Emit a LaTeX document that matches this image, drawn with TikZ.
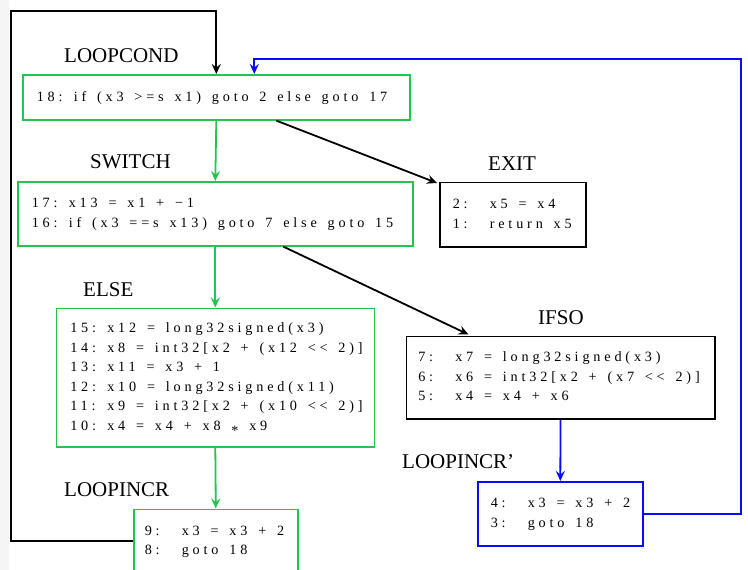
\documentclass[tikz,border=0pt]{standalone}
\usepackage{fontspec}
\setmainfont{Liberation Serif}
\newfontfamily\codefont[LetterSpace=27]{Liberation Serif}
\usetikzlibrary{arrows.meta}
\definecolor{cfggreen}{RGB}{34,197,77}
\definecolor{cfgblue}{RGB}{10,10,245}
\newcommand{\lnum}[1]{\makebox[37pt][l]{#1}}
\newcommand{\lowast}{\raisebox{-5pt}{*}}
\newcommand{\codeblock}[1]{\spaceskip=10.8pt plus 1pt\relax\begin{tabular}{@{}l@{}}#1\end{tabular}}
\tikzset{
  codebox/.style={draw, line width=1.6pt, rectangle, anchor=north west, inner ysep=0pt, align=left,
    font=\codefont\fontsize{14.2}{19.5}\selectfont},
  blocklabel/.style={anchor=base west, inner sep=0pt, font=\fontsize{21}{25}\selectfont},
  cfgedge/.style={line width=1.8pt, -{Stealth[length=10pt,width=9pt,inset=3.5pt]}},
}
\begin{document}
\begin{tikzpicture}[x=1pt,y=-1pt]
\useasboundingbox (0,0) rectangle (748,570);
\fill[gray!8] (0,0) rectangle (9,570);

% boxes
\node[codebox, draw=cfggreen, minimum width=387pt, minimum height=45pt, text width=359pt, inner xsep=14pt] (loopcond) at (22,74)
  {\codeblock{\lnum{18:}if (x3 >=s x1) goto 2 else goto 17}};
\node[codebox, draw=cfggreen, minimum width=395pt, minimum height=64pt, text width=367pt, inner xsep=14pt] (switch) at (17,181)
  {\codeblock{\lnum{17:}x13 = x1 + −1\\ \lnum{16:}if (x3 ==s x13) goto 7 else goto 15}};
\node[codebox, draw=black, minimum width=146pt, minimum height=64.5pt, text width=120pt, inner xsep=13pt] (exit) at (439,181.5)
  {\codeblock{\lnum{2:}x5 = x4\\ \lnum{1:}return x5}};
\node[codebox, draw=cfggreen, minimum width=318pt, minimum height=138.5pt, text width=290pt, inner xsep=14pt] (else) at (55.5,307.5)
  {\codeblock{\lnum{15:}x12 = long32signed(x3)\\
   \lnum{14:}x8 = int32[x2 + (x12 {<}{<} 2)]\\
   \lnum{13:}x11 = x3 + 1\\
   \lnum{12:}x10 = long32signed(x11)\\
   \lnum{11:}x9 = int32[x2 + (x10 {<}{<} 2)]\\
   \lnum{10:}x4 = x4 + x8 \lowast{} x9}};
\node[codebox, draw=black, minimum width=308.5pt, minimum height=82.5pt, text width=284.5pt, inner xsep=12pt] (ifso) at (405.5,335.5)
  {\codeblock{\lnum{7:}x7 = long32signed(x3)\\
   \lnum{6:}x6 = int32[x2 + (x7 {<}{<} 2)]\\
   \lnum{5:}x4 = x4 + x6}};
\node[codebox, draw=cfgblue, minimum width=165pt, minimum height=64pt, text width=139pt, inner xsep=13pt] (loopincrp) at (477,481)
  {\codeblock{\lnum{4:}x3 = x3 + 2\\ \lnum{3:}goto 18}};
\node[codebox, draw=cfggreen, minimum width=164pt, minimum height=64pt, text width=142pt, inner xsep=11pt] (loopincr) at (133,508.5)
  {\codeblock{\lnum{9:}x3 = x3 + 2\\ \lnum{8:}goto 18}};

% labels
\node[blocklabel] (lbl-loopcond) at (64,62) {LOOPCOND};
\node[blocklabel] (lbl-switch) at (90,168) {SWITCH};
\node[blocklabel] (lbl-exit) at (488,170) {EXIT};
\node[blocklabel] (lbl-else) at (83,296) {ELSE};
\node[blocklabel] (lbl-ifso) at (538,324) {IFSO};
\node[blocklabel] (lbl-loopincr) at (64,496) {LOOPINCR};
\node[blocklabel] (lbl-loopincrp) at (402,468) {LOOPINCR'};

% corner coordinates
\coordinate (lcorner) at (11,11);
\coordinate (rcorner) at (741,59);

% connectors
\draw[cfgedge, cfggreen] (loopcond.south) -- (switch.north);
\draw[cfgedge, cfggreen] (switch.south) -- (else.north);
\draw[cfgedge, cfggreen] (else.south) -- (loopincr.north);
\draw[cfgedge, black] ([xshift=60pt]loopcond.south) -- ([xshift=-2pt,yshift=-1.5pt]exit.north west);
\draw[cfgedge, black] ([xshift=68pt]switch.south) -- ([xshift=63pt,yshift=1pt]ifso.north west);
\draw[cfgedge, cfgblue] (ifso.south) -- (loopincrp.north);
\draw[cfgedge, black] (loopincr.west) -| (lcorner) -| (loopcond.north);
\draw[cfgedge, cfgblue] (loopincrp.east) -| (rcorner) -| ([xshift=38pt]loopcond.north);
\end{tikzpicture}
\end{document}
